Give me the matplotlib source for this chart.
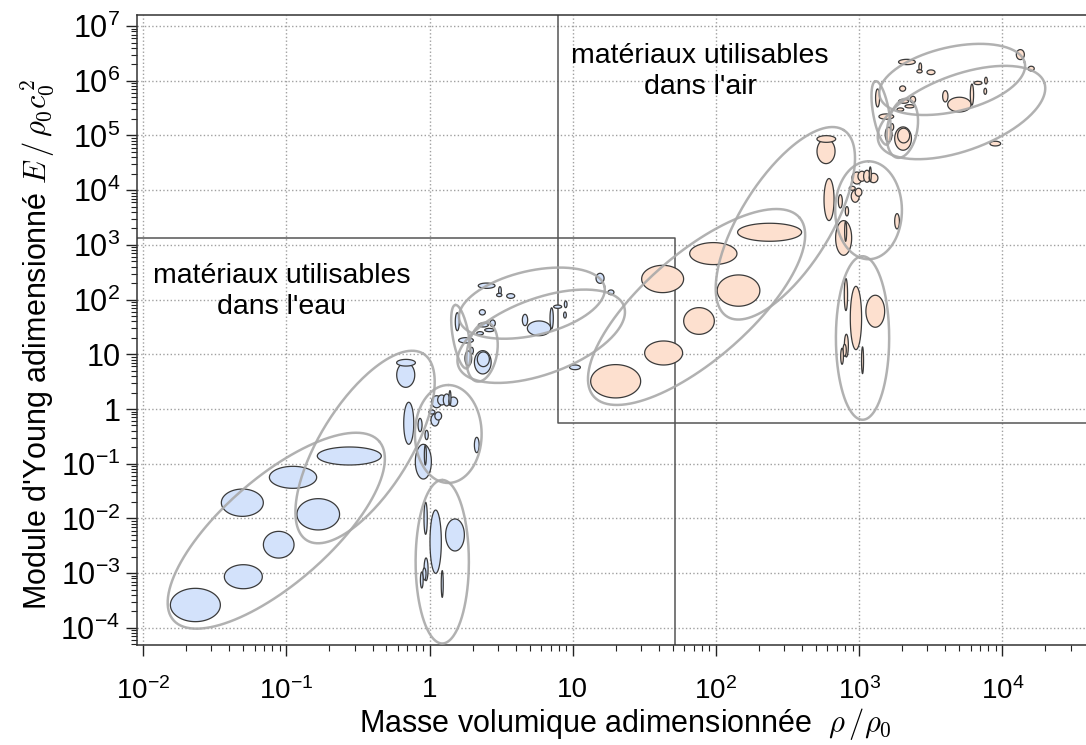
import numpy as np
import matplotlib
matplotlib.use("Agg")
import matplotlib.pyplot as plt
from matplotlib.ticker import FixedLocator, FixedFormatter, LogLocator, NullFormatter

plt.rcParams['font.family'] = ['Liberation Sans', 'DejaVu Sans']
plt.rcParams['mathtext.fontset'] = 'custom'
plt.rcParams['mathtext.rm'] = 'Liberation Sans'
plt.rcParams['mathtext.it'] = 'Liberation Sans:italic'
plt.rcParams['mathtext.default'] = 'rm'

# ---------------- data (water-normalised, log10 units) ----------------
# material bubbles: centre log10(rho/rho0), log10(E/rho0c0^2), full width / height in decades
mat_log_rho = [-1.635, -1.300, -1.053, -0.777, -1.307, -0.953, -0.560,
               -0.166, -0.164, -0.145, -0.066, -0.020, -0.043, -0.029,
               0.050, 0.085, 0.120, 0.166, 0.143, 0.038, 0.061, 0.017, 0.330,
               -0.027, 0.043, 0.178, -0.024, -0.036, -0.054, 0.089,
               0.399, 0.492, 0.487, 0.567, 0.369, 0.194, 0.376, 0.441, 0.418, 0.353,
               0.255, 0.271, 0.295, 0.372, 0.376, 0.667, 0.765, 0.853, 0.895, 0.951,
               0.946, 1.191, 1.267, 1.016]
mat_log_E = [-3.583, -3.066, -2.481, -1.925, -1.713, -1.249, -0.859,
             0.622, 0.846, -0.261, -0.293, -0.475, -0.963, -0.841,
             0.133, 0.165, 0.165, 0.133, 0.201, -0.201, -0.128, -0.055, -0.658,
             -1.998, -2.426, -2.303, -2.931, -3.016, -3.126, -3.199,
             2.254, 2.163, 2.084, 2.066, 1.768, 1.596, 1.536, 1.567, 1.444, 1.384,
             1.256, 0.927, 1.066, 0.854, 0.909, 1.627, 1.475, 1.658, 1.870, 1.914,
             1.718, 2.389, 2.133, 0.762]
mat_w = [0.349, 0.265, 0.214, 0.298, 0.293, 0.330, 0.447,
         0.126, 0.131, 0.070, 0.028, 0.023, 0.112, 0.014,
         0.070, 0.056, 0.047, 0.061, 0.014, 0.056, 0.047, 0.042, 0.033,
         0.023, 0.079, 0.131, 0.028, 0.023, 0.019, 0.014,
         0.117, 0.019, 0.037, 0.056, 0.042, 0.028, 0.070, 0.037, 0.065, 0.047,
         0.103, 0.047, 0.023, 0.117, 0.084, 0.037, 0.163, 0.023, 0.056, 0.019,
         0.019, 0.056, 0.042, 0.075]
mat_h = [0.609, 0.439, 0.488, 0.572, 0.499, 0.402, 0.329,
         0.452, 0.122, 0.768, 0.243, 0.170, 0.634, 0.366,
         0.219, 0.183, 0.219, 0.170, 0.269, 0.219, 0.146, 0.073, 0.280,
         0.585, 1.157, 0.585, 0.415, 0.219, 0.293, 0.488,
         0.097, 0.146, 0.060, 0.086, 0.097, 0.329, 0.073, 0.122, 0.060, 0.060,
         0.097, 0.269, 0.122, 0.426, 0.269, 0.207, 0.269, 0.384, 0.060, 0.122,
         0.110, 0.183, 0.086, 0.086]

# family envelopes: centre (log10), semi-axes (in x-decade units on screen), tilt (deg)
env_log_rho = [-1.070, -0.450, 0.131, 0.089, 0.219, 0.367, 0.715, 0.780]
env_log_E = [-2.225, -0.695, -0.457, -2.792, 1.322, 1.042, 1.935, 1.330]
env_a = [0.952, 0.768, 0.342, 0.571, 0.225, 0.209, 0.520, 0.615]
env_b = [0.370, 0.314, 0.233, 0.186, 0.056, 0.105, 0.225, 0.265]
env_angle = [41, 58, 90, 90, 100, 80, 13, 20]

# shift from water normalisation to air normalisation (decades)
air_shift_rho = 2.935
air_shift_E = 4.09

# usability domains
water_rho_max, water_E_max = 51.8, 1340.0
air_rho_min, air_E_min = 7.9, 0.55

x_ticks = [1e-2, 1e-1, 1, 10, 1e2, 1e3, 1e4]
x_labels = [r'$10^{-2}$', r'$10^{-1}$', '1', '10', r'$10^{2}$', r'$10^{3}$', r'$10^{4}$']
y_ticks = [1e-4, 1e-3, 1e-2, 1e-1, 1, 10, 1e2, 1e3, 1e4, 1e5, 1e6, 1e7]
y_labels = [r'$10^{-4}$', r'$10^{-3}$', r'$10^{-2}$', r'$10^{-1}$', '1', '10',
            r'$10^{2}$', r'$10^{3}$', r'$10^{4}$', r'$10^{5}$', r'$10^{6}$', r'$10^{7}$']
xlim = (10 ** -2.0426, 10 ** 4.5845)
ylim = (10 ** -4.3144, 10 ** 7.2029)

water_face = '#d3e2fb'
air_face = '#fde0cf'
edge_col = '#3a3a3a'
env_col = '#a9a9a9'

# ---------------- figure ----------------
fig = plt.figure(figsize=(10.86, 7.45), dpi=100)
ax = fig.add_axes([137 / 1086, 100 / 745, 949 / 1086, 630 / 745])
ax.set_xscale('log')
ax.set_yscale('log')
ax.set_xlim(*xlim)
ax.set_ylim(*ylim)

W, H = fig.get_size_inches() * fig.dpi
pos = ax.get_position()
ppx = pos.width * W / (np.log10(xlim[1]) - np.log10(xlim[0]))
ppy = pos.height * H / (np.log10(ylim[1]) - np.log10(ylim[0]))

t = np.linspace(0, 2 * np.pi, 240)


def draw_materials(drho, dE, face):
    for lx, ly, w, h in zip(mat_log_rho, mat_log_E, mat_w, mat_h):
        px = lx + drho + 0.5 * w * np.cos(t)
        py = ly + dE + 0.5 * h * np.sin(t)
        ax.fill(10 ** px, 10 ** py, facecolor=face, edgecolor=edge_col,
                linewidth=0.9, zorder=3)


def draw_envelopes(drho, dE):
    for cx, cy, a, b, ang in zip(env_log_rho, env_log_E, env_a, env_b, env_angle):
        th = np.deg2rad(ang)
        X = a * np.cos(t)
        Y = b * np.sin(t)
        dx = X * np.cos(th) - Y * np.sin(th)
        dy = (X * np.sin(th) + Y * np.cos(th)) * ppx / ppy
        ax.plot(10 ** (cx + drho + dx), 10 ** (cy + dE + dy), color=env_col,
                linewidth=1.8, alpha=0.9, zorder=4, solid_capstyle='round')


draw_materials(0, 0, water_face)
draw_materials(air_shift_rho, air_shift_E, air_face)
draw_envelopes(0, 0)
draw_envelopes(air_shift_rho, air_shift_E)

# usability domains
rect_col = '#555555'
ax.plot([xlim[0], water_rho_max, water_rho_max], [water_E_max, water_E_max, ylim[0]],
        color=rect_col, linewidth=1.1, zorder=2)
ax.plot([air_rho_min, air_rho_min, xlim[1]], [ylim[1], air_E_min, air_E_min],
        color=rect_col, linewidth=1.1, zorder=2)

ax.text(77.4, 1.45e6, "matériaux utilisables\ndans l'air", ha='center', va='center',
        fontsize=20.5, linespacing=1.25, zorder=5)
ax.text(0.093, 138, "matériaux utilisables\ndans l'eau", ha='center', va='center',
        fontsize=20.5, linespacing=1.25, zorder=5)

# grid & axes
ax.grid(True, which='major', linestyle=':', color='#a0a0a0', linewidth=1.0, zorder=0)
ax.set_axisbelow(True)
ax.xaxis.set_major_locator(FixedLocator(x_ticks))
ax.xaxis.set_major_formatter(FixedFormatter(x_labels))
ax.yaxis.set_major_locator(FixedLocator(y_ticks))
ax.yaxis.set_major_formatter(FixedFormatter(y_labels))
ax.xaxis.set_minor_locator(LogLocator(base=10, subs=np.arange(2, 10), numticks=50))
ax.yaxis.set_minor_locator(LogLocator(base=10, subs=np.arange(2, 10), numticks=50))
ax.xaxis.set_minor_formatter(NullFormatter())
ax.yaxis.set_minor_formatter(NullFormatter())
ax.tick_params(which='major', direction='out', length=8, width=1.0, colors='#222222',
               labelcolor='black')
ax.tick_params(which='minor', direction='out', length=4, width=0.8, colors='#222222')
ax.tick_params(axis='x', labelsize=20, pad=15)
ax.tick_params(axis='y', labelsize=22, pad=4)
for s in ['left', 'bottom', 'top']:
    ax.spines[s].set_color('#333333')
    ax.spines[s].set_linewidth(1.1)
ax.spines['right'].set_visible(False)

ax.set_xlabel(r"Masse volumique adimensionnée  $\rho\,/\rho_0$", fontsize=22,
              math_fontfamily='cm', va='center')
ax.xaxis.set_label_coords(0.515, -0.125)
ax.set_ylabel(r"Module d'Young adimensionné $\mathit{E}\,/\,\rho_0 \mathit{c}_0^{\,2}$",
              fontsize=22, math_fontfamily='cm', va='center')
ax.yaxis.set_label_coords(-0.1043, 0.478)

fig.savefig('out.png', dpi=100)
